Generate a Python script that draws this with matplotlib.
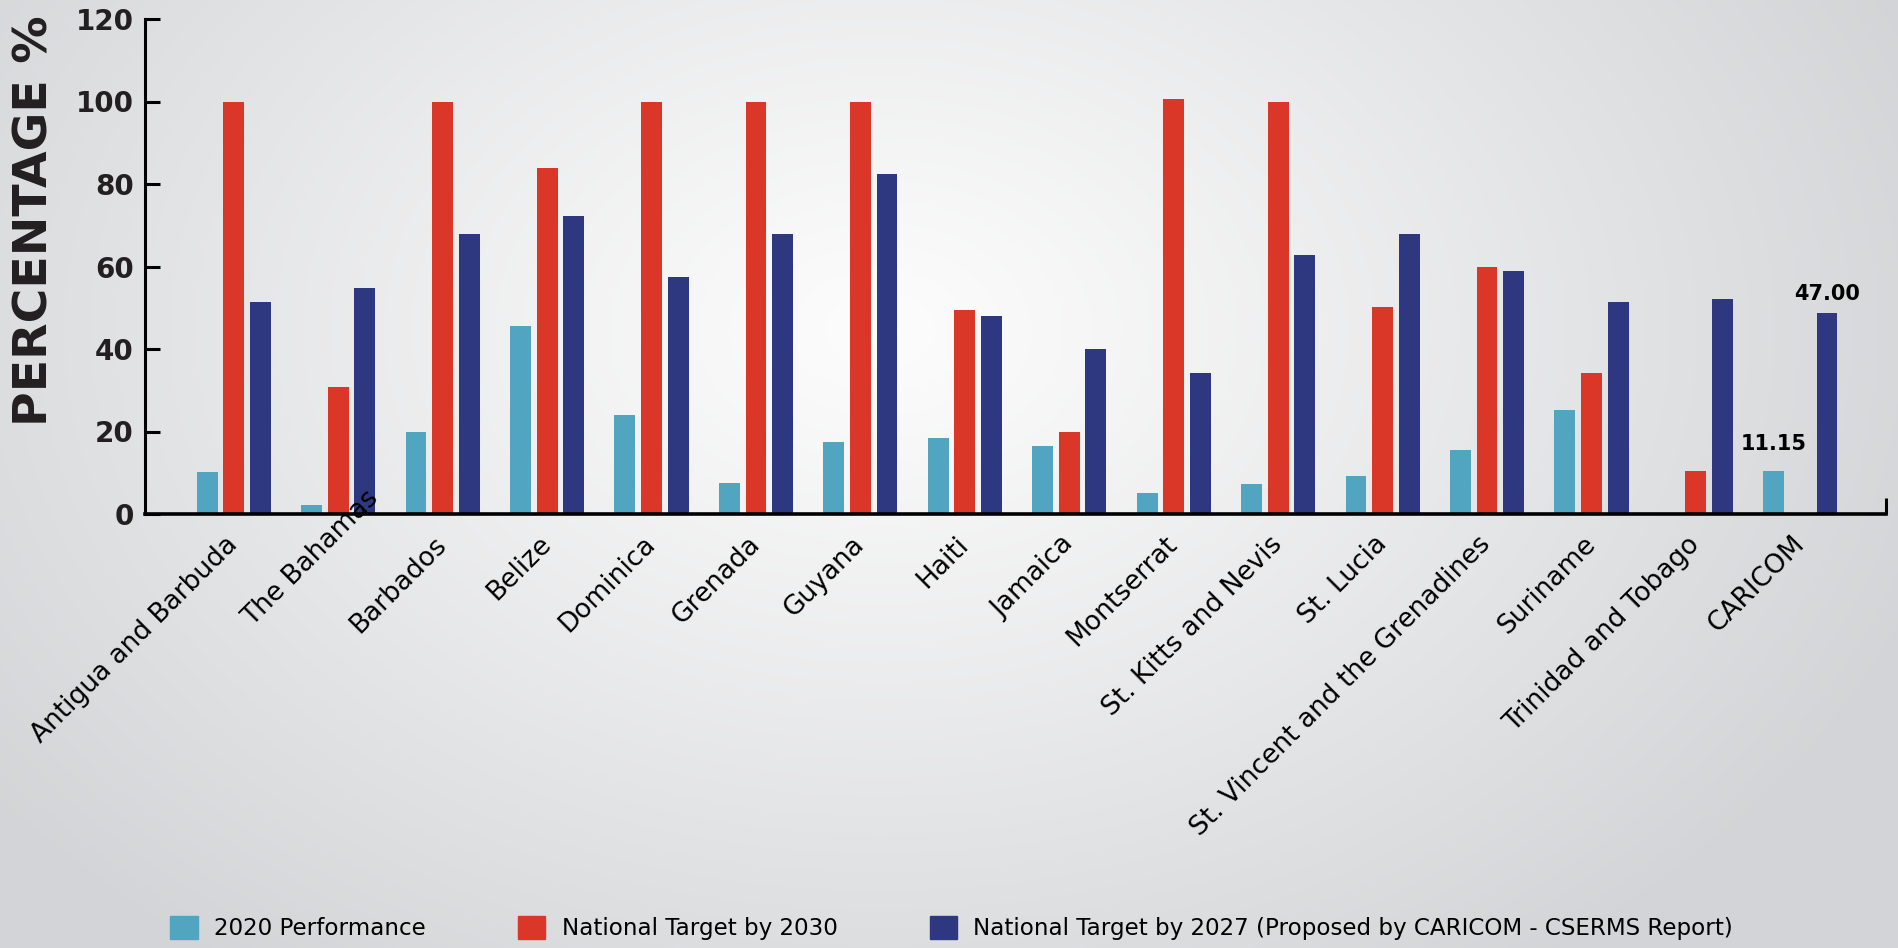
import numpy as np
import matplotlib
matplotlib.use("Agg")
import matplotlib.pyplot as plt
from matplotlib.patches import Patch
from matplotlib.transforms import ScaledTranslation

# data
countries = ["Antigua and Barbuda", "The Bahamas", "Barbados", "Belize", "Dominica",
             "Grenada", "Guyana", "Haiti", "Jamaica", "Montserrat",
             "St. Kitts and Nevis", "St. Lucia", "St. Vincent and the Grenadines",
             "Suriname", "Trinidad and Tobago", "CARICOM"]
perf_2020 = [10.3, 2.3, 19.9, 45.6, 24.0, 7.6, 17.5, 18.4, 16.6, 5.2, 7.3, 9.3, 15.6, 25.2, 0, 10.4]
target_2030 = [100, 30.8, 100, 83.9, 100, 100, 100, 49.4, 19.9, 100.6, 100, 50.1, 60.0, 34.2, 10.4, 0]
target_2027 = [51.3, 54.9, 68.0, 72.3, 57.4, 68.0, 82.4, 47.9, 40.0, 34.2, 62.9, 68.0, 58.8, 51.3, 52.1, 48.8]
series_names = ["2020 Performance", "National Target by 2030",
                "National Target by 2027 (Proposed by CARICOM - CSERMS Report)"]
caricom_labels = ["11.15", "47.00"]

colors = ["#52a5c0", "#da3728", "#2d3881"]

fig = plt.figure(figsize=(18.98, 9.48), dpi=100)

# radial grey background
bg = fig.add_axes([0, 0, 1, 1], zorder=-10)
yy, xx = np.mgrid[0:948, 0:1898]
r = np.sqrt(((xx - 880) / 1100.0) ** 2 + ((yy - 330) / 780.0) ** 2)
t = np.clip(r, 0, 1) ** 1.1
light = np.array([0.99, 0.99, 0.99])
dark = np.array([0.83, 0.835, 0.845])
img = light[None, None, :] * (1 - t[..., None]) + dark[None, None, :] * t[..., None]
bg.imshow(img, aspect="auto", extent=[0, 1, 0, 1])
bg.axis("off")

ax = fig.add_axes([145 / 1898, 1 - 514 / 948, (1886 - 145) / 1898, (514 - 19) / 948])
ax.patch.set_alpha(0)

x = np.arange(len(countries))
w = 0.2
off = 0.255
ax.bar(x - off, perf_2020, w, color=colors[0])
ax.bar(x, target_2030, w, color=colors[1])
ax.bar(x + off, target_2027, w, color=colors[2])

ax.set_ylim(0, 120)
ax.set_xlim(-0.85, len(countries) - 1 + 0.82)
ax.set_yticks(range(0, 121, 20))
for s in ["top", "right"]:
    ax.spines[s].set_visible(False)
ax.spines["left"].set_linewidth(2.2)
ax.spines["bottom"].set_linewidth(2.6)
ax.tick_params(axis="y", direction="in", length=11, width=2.2, pad=8, labelsize=20,
               labelcolor="#231f20")
for lab in ax.get_yticklabels():
    lab.set_fontweight("heavy")
ax.tick_params(axis="x", length=0, pad=19)
ax.set_xticks(x)
ax.set_xticklabels(countries, rotation=45, ha="right", va="center",
                   rotation_mode="anchor", fontsize=19)
# the Bahamas label sits higher in the original
xl = ax.get_xticklabels()[1]
xl.set_transform(xl.get_transform() + ScaledTranslation(0.36, 0.46, fig.dpi_scale_trans))

# end tick at right of x axis
ax.plot([1, 1], [0, 0.032], transform=ax.transAxes, color="black", lw=2.2,
        clip_on=False, solid_capstyle="butt")

# CARICOM value labels
last = len(countries) - 1
ax.annotate(caricom_labels[0], (x[last] - off, perf_2020[last]), xytext=(0, 12),
            textcoords="offset points", ha="center", va="bottom",
            fontsize=15, fontweight="bold")
ax.annotate(caricom_labels[1], (x[last] + off, target_2027[last]), xytext=(0, 6),
            textcoords="offset points", ha="center", va="bottom",
            fontsize=15, fontweight="bold")

fig.text(35 / 1898, 1 - 221 / 948, "PERCENTAGE %", rotation=90, ha="center",
         va="center", fontsize=34, fontweight="heavy", color="#231f20")

handles = [Patch(color=c) for c in colors]
fig.legend(handles, series_names, loc="center left",
           bbox_to_anchor=(170 / 1898, 1 - 928 / 948), ncol=3, frameon=False,
           fontsize=16.6, handlelength=1.2, handleheight=1.2, handletextpad=0.7,
           columnspacing=4.0, borderpad=0, borderaxespad=0)

fig.savefig("out.png", dpi=100)
